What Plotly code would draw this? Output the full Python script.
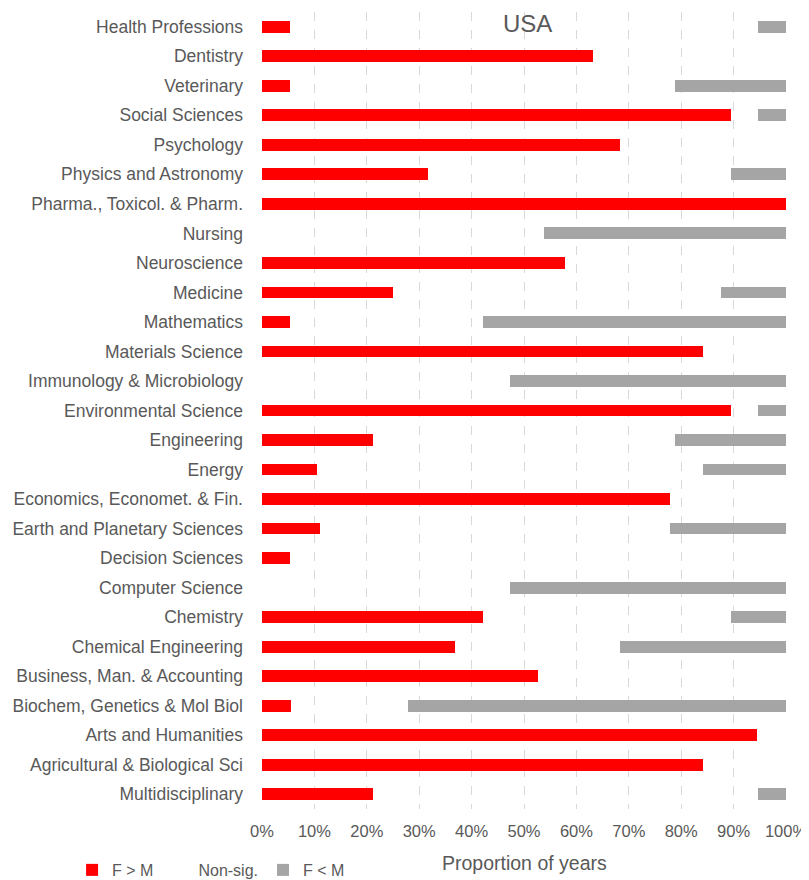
import plotly.graph_objects as go

categories = [
    "Health Professions", "Dentistry", "Veterinary", "Social Sciences", "Psychology",
    "Physics and Astronomy", "Pharma., Toxicol. & Pharm.", "Nursing", "Neuroscience",
    "Medicine", "Mathematics", "Materials Science", "Immunology & Microbiology",
    "Environmental Science", "Engineering", "Energy", "Economics, Economet. & Fin.",
    "Earth and Planetary Sciences", "Decision Sciences", "Computer Science", "Chemistry",
    "Chemical Engineering", "Business, Man. & Accounting", "Biochem, Genetics & Mol Biol",
    "Arts and Humanities", "Agricultural & Biological Sci", "Multidisciplinary",
]

f_gt_m = [5.3, 63.2, 5.3, 89.5, 68.4, 31.6, 100.0, 0.0, 57.9, 25.0, 5.3, 84.2, 0.0,
          89.5, 21.1, 10.5, 77.8, 11.1, 5.3, 0.0, 42.1, 36.8, 52.6, 5.6, 94.4, 84.2, 21.1]
f_lt_m = [5.3, 0.0, 21.1, 5.3, 0.0, 10.5, 0.0, 46.2, 0.0, 12.5, 57.9, 0.0, 52.6,
          5.3, 21.1, 15.8, 0.0, 22.2, 0.0, 52.6, 10.5, 31.6, 0.0, 72.2, 0.0, 0.0, 5.3]
non_sig = [round(100 - a - b, 1) for a, b in zip(f_gt_m, f_lt_m)]

x_ticks = list(range(0, 101, 10))
x_tick_labels = [f"{v}%" for v in x_ticks]

FONT = "Liberation Sans, Arial, sans-serif"
TXT = "#595959"

fig = go.Figure()
fig.add_trace(go.Bar(y=categories, x=f_gt_m, orientation="h", name="F > M",
                     marker=dict(color="#ff0000", line=dict(width=0)), width=0.4))
fig.add_trace(go.Bar(y=categories, x=non_sig, orientation="h", name="Non-sig.",
                     marker=dict(color="rgba(0,0,0,0)", line=dict(width=0)), width=0.4))
fig.add_trace(go.Bar(y=categories, x=f_lt_m, orientation="h", name="F < M",
                     marker=dict(color="#a5a5a5", line=dict(width=0)), width=0.4))

fig.update_layout(
    barmode="stack",
    width=801, height=872,
    margin=dict(l=254, r=23, t=4, b=71, autoexpand=False),
    plot_bgcolor="white", paper_bgcolor="white",
    font=dict(family=FONT, color=TXT, size=17),
    showlegend=True,
    legend=dict(orientation="h", xref="container", yref="container",
                x=0.080, y=0.0115, xanchor="left", yanchor="middle",
                font=dict(size=16, color=TXT), traceorder="normal",
                itemwidth=30, bgcolor="rgba(0,0,0,0)"),
    annotations=[
        dict(text="USA", x=50.6, y=0, xref="x", yref="y", yshift=3,
             showarrow=False, font=dict(size=24, color=TXT, family=FONT),
             xanchor="center", yanchor="middle"),
        dict(text="Proportion of years", x=0.5, y=-0.0678, xref="paper", yref="paper",
             showarrow=False, font=dict(size=19.5, color=TXT, family=FONT),
             xanchor="center", yanchor="middle"),
    ],
)
fig.update_xaxes(
    range=[0, 100], tickvals=x_ticks, ticktext=x_tick_labels,
    showgrid=True, gridcolor="#d9d9d9", griddash="dash", gridwidth=1,
    zeroline=False, showline=False, ticks="", ticklabelstandoff=10,
    tickfont=dict(size=16.5, color=TXT),
    automargin=False,
)
fig.update_yaxes(
    autorange="reversed", showgrid=False, zeroline=False, showline=False,
    ticks="", ticklabelstandoff=18, tickfont=dict(size=17.5, color=TXT), automargin=False,
)

fig.write_html("out.html")
